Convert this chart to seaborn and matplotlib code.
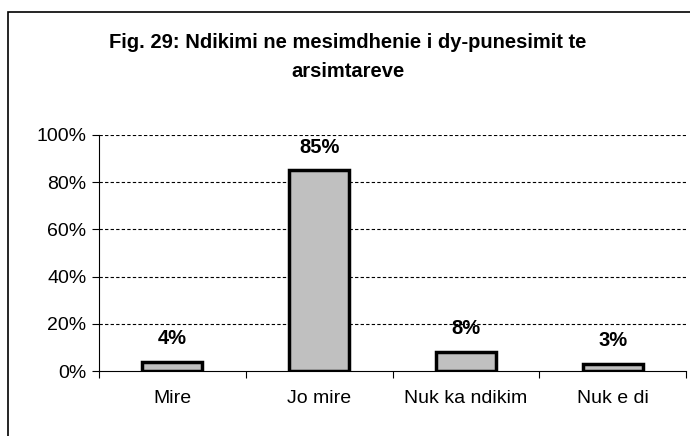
import matplotlib
matplotlib.use('Agg')
import matplotlib.pyplot as plt
import seaborn as sns
from matplotlib.patches import Rectangle
from matplotlib.ticker import PercentFormatter, FixedLocator

# Data
categories = ['Mire', 'Jo mire', 'Nuk ka ndikim', 'Nuk e di']
values = [4, 85, 8, 3]
labels = ['4%', '85%', '8%', '3%']
title = 'Fig. 29: Ndikimi ne mesimdhenie i dy-punesimit te\narsimtareve'

sns.set_style('white')
plt.rcParams['font.family'] = ['Liberation Sans', 'DejaVu Sans']
plt.rcParams['text.color'] = 'black'
plt.rcParams['xtick.color'] = 'black'
plt.rcParams['ytick.color'] = 'black'

fig = plt.figure(figsize=(6.9, 4.36), dpi=100)
ax = fig.add_axes([99 / 690, 65 / 436, 587 / 690, 236 / 436])

sns.barplot(x=categories, y=values, color='#c0c0c0', saturation=1,
            edgecolor='black', linewidth=2.5, width=0.41, ax=ax)

ax.set_ylim(0, 100)
ax.set_xlim(-0.5, 3.5)
ax.set_yticks([0, 20, 40, 60, 80, 100])
ax.yaxis.set_major_formatter(PercentFormatter(decimals=0))
ax.set_xlabel('')
ax.set_ylabel('')

# dashed gridlines
for v in [20, 40, 60, 80, 100]:
    ax.axhline(v, color='black', linestyle=(0, (3, 2)), linewidth=0.8, zorder=0)

ax.tick_params(axis='y', which='major', length=5, width=0.8, color='black',
               labelsize=14, pad=4, left=True)
ax.tick_params(axis='x', which='major', length=0, labelsize=14, pad=14, bottom=True)
ax.xaxis.set_minor_locator(FixedLocator([-0.5, 0.5, 1.5, 2.5, 3.5]))
ax.tick_params(axis='x', which='minor', length=5, width=0.8, color='black', bottom=True)

for side in ['top', 'right']:
    ax.spines[side].set_visible(False)
for side in ['left', 'bottom']:
    ax.spines[side].set_color('black')
    ax.spines[side].set_linewidth(0.8)

# value labels
for i, (v, lab) in enumerate(zip(values, labels)):
    ax.annotate(lab, (i, v), xytext=(0, 10), textcoords='offset points',
                ha='center', va='bottom', fontsize=14.5, fontweight='bold')

fig.text(348 / 690, 1 - 57 / 436, title, ha='center', va='center',
         fontsize=14.5, fontweight='bold', linespacing=1.65)

# outer border of the chart area
fig.patches.append(Rectangle((8 / 690, -0.1), 1.2, 1.1 - 12 / 436,
                             transform=fig.transFigure, fill=False,
                             edgecolor='black', linewidth=1.2))

fig.savefig('out.png', dpi=100)
